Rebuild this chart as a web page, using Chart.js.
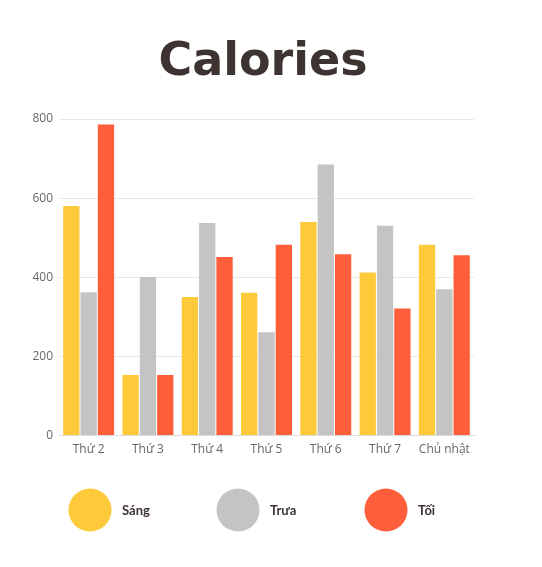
<!DOCTYPE html>
<html><head><meta charset="utf-8">
<script src="https://cdn.jsdelivr.net/npm/chart.js@4"></script>
<style>html,body{margin:0;padding:0;background:#fff;}#wrap{width:542px;height:567px;}</style>
</head><body><div id="wrap"><canvas id="c" width="542" height="567"></canvas></div>
<script>
const categories = ['Thứ 2','Thứ 3','Thứ 4','Thứ 5','Thứ 6','Thứ 7','Chủ nhật'];
const seriesNames = ['Sáng','Trưa','Tối'];
const sang = [580,153,350,361,540,412,482];
const trua = [362,401,537,261,685,530,370];
const toi  = [786,153,451,482,458,321,456];
const colors = ['#FFCA3A','#C4C4C4','#FF5E3A'];
const titleText = 'Calories';

const overlay = {
  id:'overlay',
  afterDraw(chart){
    const ctx = chart.ctx;
    ctx.save();
    ctx.fillStyle = '#3D3431';
    ctx.font = 'bold 46px "DejaVu Sans"';
    ctx.textAlign = 'center';
    ctx.textBaseline = 'alphabetic';
    ctx.fillText(titleText, 263, 75);
    const xs = [90, 238, 386];
    chart.data.datasets.forEach((ds,i)=>{
      ctx.beginPath();
      ctx.fillStyle = ds.backgroundColor;
      ctx.arc(xs[i], 510, 21.5, 0, Math.PI*2);
      ctx.fill();
      ctx.fillStyle = '#3D3431';
      ctx.font = 'bold 13px Lato';
      ctx.textAlign = 'left';
      ctx.textBaseline = 'middle';
      ctx.fillText(ds.label, xs[i]+32, 511);
    });
    ctx.restore();
  }
};

new Chart(document.getElementById('c'), {
  type:'bar',
  data:{
    labels:categories,
    datasets:[
      {label:seriesNames[0], data:sang, backgroundColor:colors[0]},
      {label:seriesNames[1], data:trua, backgroundColor:colors[1]},
      {label:seriesNames[2], data:toi, backgroundColor:colors[2]}
    ]
  },
  options:{
    responsive:false, animation:false,
    layout:{padding:{top:119,right:68,bottom:103,left:0}},
    datasets:{bar:{categoryPercentage:0.877, barPercentage:0.94}},
    plugins:{legend:{display:false}, title:{display:false}, tooltip:{enabled:false}},
    scales:{
      x:{
        grid:{display:false,drawTicks:false},
        border:{display:true,color:'#DDDDDD'},
        ticks:{color:'#666',font:{family:'Open Sans',size:12},padding:7}
      },
      y:{
        min:0,max:800,
        afterFit(s){ s.width = 59; },
        grid:{color:'#E8E8E8',drawTicks:false},
        border:{display:false},
        ticks:{stepSize:200,color:'#666',font:{family:'Open Sans',size:12},padding:6}
      }
    }
  },
  plugins:[overlay]
});
</script></body></html>
